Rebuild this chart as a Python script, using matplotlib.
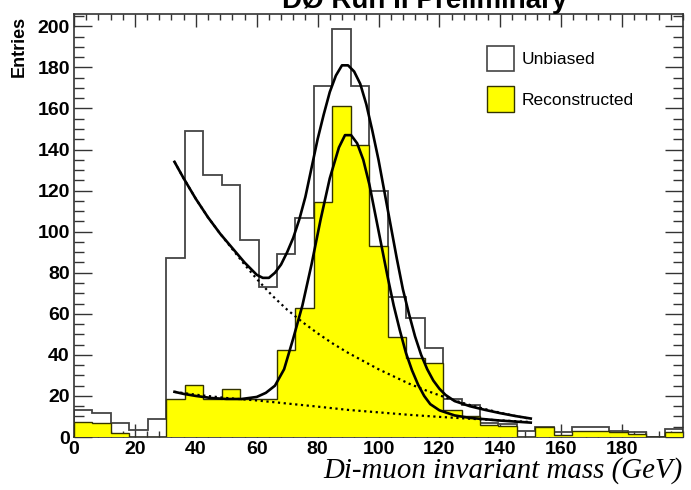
import numpy as np
import matplotlib
matplotlib.use("Agg")
import matplotlib.pyplot as plt
from matplotlib.patches import Patch
from matplotlib.ticker import MultipleLocator

# ---------------- data ----------------
n_bins = 33
x_range = (0, 200)

unbiased = [13, 11.5, 7, 3.5, 9, 87, 149, 127.5, 122.5, 96, 73, 89, 106.5,
            171, 198.5, 171, 120, 68, 58, 43.5, 18.5, 15.5, 7, 6.5, 3, 5,
            2.3, 5, 5, 3, 2.3, 0, 4]
reconstructed = [7.5, 7, 2, 0, 0, 18.3, 25.3, 18.3, 23.2, 18.3, 18.3, 42.3,
                 62.6, 114.5, 161, 142, 93, 48.8, 38.3, 35.8, 13, 10.4, 5.8,
                 5.5, 0, 5, 1, 3, 3, 2.5, 1.5, 0, 2.5]

# fit curves
fitU_x = [33, 36, 40, 44, 48, 52, 56, 60, 62, 64, 66, 68, 70, 72, 74, 76, 78,
          80, 82, 84, 86, 88, 90, 92, 94, 96, 98, 100, 102, 104, 106, 108,
          110, 112, 114, 116, 118, 120, 122, 125, 130, 135, 140, 145, 150]
fitU_y = [134, 126, 116, 107, 99, 92, 85, 79, 77.5, 77.5, 80, 84, 90, 97,
          106, 117, 131, 145, 157, 168, 176, 181, 181, 178, 172, 162, 149,
          135, 119, 103, 87, 72, 60, 49, 40, 33, 27.5, 23.5, 20.5, 17.5, 15,
          13.2, 11.6, 10.2, 9]
bkgU_x = [33, 36, 40, 44, 48, 52, 56, 60, 65, 70, 75, 80, 85, 90, 95, 100,
          105, 110, 115, 120, 125, 130, 135, 140, 145, 150]
bkgU_y = [134, 126, 116, 107, 99, 91.5, 84, 77, 69, 62, 56, 50.5, 45.5, 41,
          37, 33, 29.5, 26, 23, 20.3, 17.8, 15.6, 13.6, 11.8, 10.2, 8.8]

fitR_x = [33, 36, 40, 45, 50, 55, 60, 63, 66, 69, 72, 75, 78, 81, 84, 87, 89,
          91, 93, 95, 97, 99, 101, 103, 105, 107, 109, 111, 113, 115, 117,
          120, 125, 130, 140, 150]
fitR_y = [22, 21, 20, 19, 18.5, 18.5, 19.5, 21.5, 25, 33, 48, 64, 84, 106,
          126, 141, 147, 147, 143, 135, 123, 108, 93, 78, 64, 52, 41, 32.5,
          25.5, 20, 16, 13, 10.5, 9.3, 8, 7]
bkgR_x = [33, 40, 50, 60, 70, 80, 90, 100, 110, 120, 130, 140, 150]
bkgR_y = [22, 20.6, 19, 17.8, 16.3, 14.8, 13.2, 12, 10.8, 9.8, 8.9, 8.1, 7.3]

labels = ["Unbiased", "Reconstructed"]
xticks = [0, 20, 40, 60, 80, 100, 120, 140, 160, 180]
yticks = [0, 20, 40, 60, 80, 100, 120, 140, 160, 180, 200]

# ---------------- figure ----------------
plt.rcParams["font.family"] = ["Liberation Sans", "DejaVu Sans"]
fig = plt.figure(figsize=(6.91, 4.90), dpi=100)
ax = fig.add_axes([74 / 691, 1 - 437 / 490, 609 / 691, 423 / 490])

edges = np.linspace(x_range[0], x_range[1], n_bins + 1)
ax.stairs(unbiased, edges, baseline=0, fill=False, color="#444444", lw=1.3,
          zorder=2)
ax.stairs(reconstructed, edges, baseline=0, fill=True, facecolor="#ffff00",
          edgecolor="#333300", lw=1.0, zorder=3)

ax.plot(bkgU_x, bkgU_y, color="k", lw=1.6, ls=(0, (1, 1.6)), zorder=4)
ax.plot(bkgR_x, bkgR_y, color="k", lw=1.6, ls=(0, (1, 1.6)), zorder=4)
ax.plot(fitU_x, fitU_y, color="k", lw=1.9, zorder=5)
ax.plot(fitR_x, fitR_y, color="k", lw=1.9, zorder=5)

ax.set_xlim(*x_range)
ax.set_ylim(0, 206)
ax.set_xticks(xticks)
ax.set_yticks(yticks)
ax.xaxis.set_minor_locator(MultipleLocator(4))
ax.yaxis.set_minor_locator(MultipleLocator(5))
ax.tick_params(which="both", direction="in", top=True, right=True,
               labelsize=14, width=1.0, color="#333333")
ax.tick_params(axis="x", which="major", length=9.5, pad=3)
ax.tick_params(axis="x", which="minor", length=4.5)
ax.tick_params(axis="y", which="major", length=13, pad=3)
ax.tick_params(axis="y", which="minor", length=7)
for lab in ax.get_xticklabels() + ax.get_yticklabels():
    lab.set_fontweight("bold")
for s in ax.spines.values():
    s.set_linewidth(1.2)
    s.set_color("#333333")

ax.set_xlabel("Di-muon invariant mass (GeV)", family="Liberation Serif",
              style="italic", fontsize=20.8, loc="right", labelpad=-1)
fig.text(19 / 691, 1 - 16 / 490, "Entries", rotation=90, ha="center",
         va="top", fontsize=13, fontweight="bold")
fig.text(425 / 691, 1 - 8 / 490, "DØ Run II Preliminary", ha="center",
         va="baseline", fontsize=20, fontweight="bold")

handles = [Patch(facecolor="white", edgecolor="#444444", lw=1.2),
           Patch(facecolor="#ffff00", edgecolor="#333300", lw=1.0)]
ax.legend(handles, labels, loc="upper left", bbox_to_anchor=(0.652, 0.962),
          frameon=False, fontsize=12.5, handlelength=1.55, handleheight=1.85,
          labelspacing=0.9, handletextpad=0.46)

fig.savefig("out.png", dpi=100)
